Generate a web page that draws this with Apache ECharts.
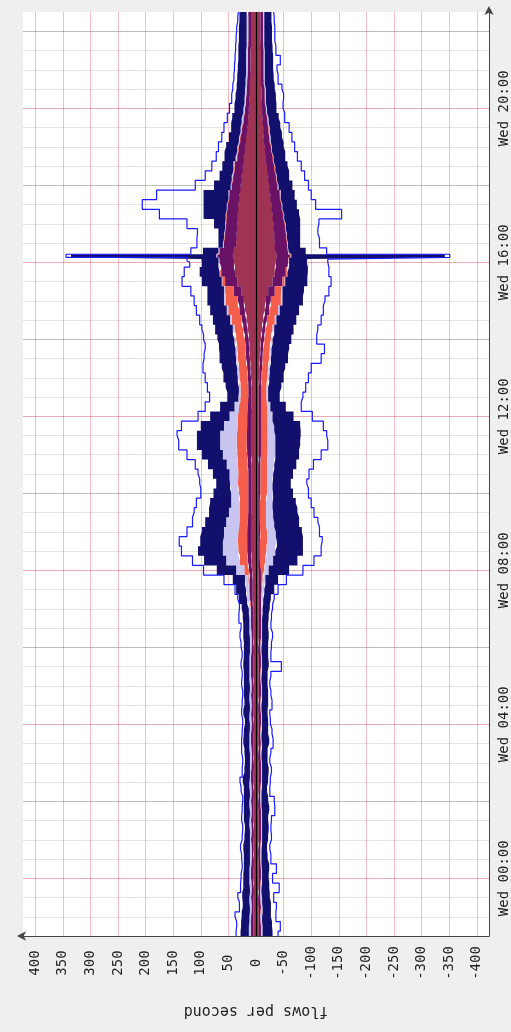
<!DOCTYPE html>
<html><head><meta charset="utf-8">
<script src="https://cdn.jsdelivr.net/npm/echarts@6/dist/echarts.min.js"></script>
<style>html,body{margin:0;padding:0;background:#efefef}#c{width:511px;height:1032px}</style>
</head><body><div id="c"></div><script>
// sample times: minutes relative to Wed 00:00 (negative = Tuesday evening)
const sampleMinutes = [-90,-75,-60,-45,-30,-15,0,15,30,45,60,75,90,105,120,135,150,165,180,195,210,225,240,255,270,285,300,315,330,345,360,375,390,405,420,435,450,465,480,495,510,525,540,555,570,585,600,615,630,645,660,675,690,705,720,735,750,765,780,795,810,825,840,855,870,885,900,915,930,945,960,965,970,975,990,1005,1020,1035,1050,1065,1080,1095,1110,1125,1140,1155,1170,1185,1200,1215,1230,1245,1260,1275,1290,1305,1320,1335,1350];

// upper half (positive) layers, flows per second
const inMaroon = [5,5,5,5,5,4, 5,5,4,5,5,4,5,5,5,4,5,5,4,5,5,5,4,5,5,5,4,5,5,5,4,5,5,5,5,6,6, 6,7,8,9,9,9,9,8,8,8,8,8,8,9,9,9,9,9,8, 8,8,9,10,11,12,13,15,17,20,22,26,34,38, 40,40,42,40,36,35,34,33,32,30, 28,26,24,22,20,18,16,14,13,12, 11,11,10,10,10,9,9,9,9];
const inPurple = [4,4,4,3,4,4, 4,4,4,3,4,4,4,3,4,4,4,4,4,3,4,4,4,4,3,4,4,4,4,4,4,3,4,4,4,5,5, 5,6,7,7,7,7,6,6,6,6,6,6,7,7,8,8,7,7,7, 6,6,6,6,7,7,7,8,9,10,11,14,22,25, 26,26,28,26,22,21,20,20,19,18, 16,15,14,12,11,10,9,8,7,6, 6,5,5,5,5,5,5,5,5];
const inCoral = [0,0,0,0,0,0, 0,0,0,0,0,0,0,0,0,0,0,0,0,0,0,0,0,0,0,0,0,0,0,0,0,0,0,0,0,1,2, 3,8,14,16,17,16,15,15,15,17,19,18,18,18,18,18,17,17,16, 14,14,15,15,15,15,16,16,18,20,22,16,5,2, 1,1,1,1,1,1,1,1,1,1, 1,1,1,1,1,1,1,1,0,0, 0,0,0,0,0,0,0,0,0];
const inLavender = [4,4,3,3,3,3, 3,3,3,3,2,3,3,3,3,3,3,2,3,3,3,3,3,3,3,3,3,3,3,3,3,3,3,3,4,4,5, 6,15,25,28,27,26,24,20,16,14,14,16,20,26,30,30,25,15,8, 4,3,3,3,3,3,3,3,3,3,3,2,1,1, 1,1,1,1,1,1,1,1,1,1, 1,2,2,2,2,2,2,3,3,3, 3,3,3,3,3,3,3,3,3];
const inNavy = [15,14,14,13,13,12, 11,10,11,12,10,9,10,11,10,11,12,10,9,10,11,10,9,11,10,10,11,10,11,10,11,12,11,12,13,15,18, 22,35,40,45,41,40,38,36,38,32,25,30,34,38,42,42,42,35,26, 20,24,26,28,30,30,31,32,31,30,30,30,36,36, 30,31,263,28,8,10,20,40,42,45, 30,22,20,20,20,18,17,17,16,16, 15,15,15,14,14,14,14,13,13];
const inPeak = [36,35,38,30,33,28, 27,25,26,28,25,24,26,25,24,27,29,25,24,26,26,25,24,26,25,24,26,25,27,25,27,29,27,31,30,33,38, 58,95,115,135,139,125,115,112,108,100,102,105,110,125,140,143,135,105,92, 84,88,92,96,94,92,95,98,102,108,112,118,134,130, 120,125,344,118,107,106,125,175,206,180, 110,92,80,72,68,62,58,52,48,44, 42,40,39,38,37,36,35,33,32];

// lower half (drawn below zero) layers, magnitudes in flows per second
const outMaroon = [5,5,5,5,4,5, 5,5,5,4,5,5,5,5,4,5,5,5,5,4,5,5,5,5,4,5,5,5,5,5,4,5,5,5,5,5,5, 5,5,4,4,4,4,4,4,4,4,4,4,4,5,5,5,5,5,5, 5,5,6,6,7,8,9,11,13,16,18,22,30,34, 36,36,38,36,34,33,32,30,28,26, 24,22,20,18,16,14,13,12,11,10, 10,9,9,9,9,8,8,8,8];
const outPurple = [4,4,3,4,4,3, 4,4,3,4,4,4,4,4,4,3,4,4,4,4,4,3,4,4,4,4,4,3,4,4,4,4,4,4,4,4,4, 4,4,3,3,3,4,3,3,3,4,4,4,4,4,4,4,4,4,4, 4,4,4,5,5,5,6,6,7,8,9,12,18,20, 22,22,24,22,22,21,20,19,18,17, 15,14,13,12,11,10,9,8,7,6, 6,5,5,5,5,5,5,5,5];
const outCoral = [0,0,0,0,0,0, 0,0,0,0,0,0,0,0,0,0,0,0,0,0,0,0,0,0,0,0,0,0,0,0,0,0,0,0,0,1,2, 3,6,10,12,13,12,11,11,11,12,12,12,12,12,12,12,12,12,11, 10,10,11,11,12,12,12,13,14,16,18,12,4,2, 1,1,1,1,1,1,1,1,1,1, 1,1,1,1,1,1,1,1,0,0, 0,0,0,0,0,0,0,0,0];
const outLavender = [3,3,3,3,3,2, 2,2,2,2,2,2,2,2,2,2,2,2,2,2,2,2,2,2,2,2,2,2,2,2,2,2,2,2,3,3,4, 5,8,14,16,18,16,15,13,12,11,10,11,13,14,14,14,12,9,6, 3,3,3,3,3,3,3,3,3,3,3,2,1,1, 1,1,1,1,1,1,1,1,1,1, 1,1,1,1,1,2,2,2,2,2, 2,2,2,2,2,2,2,2,2];
const outNavy = [18,17,16,15,14,14, 12,13,11,10,11,12,11,13,12,10,11,12,10,11,13,12,11,10,12,11,10,11,12,11,12,12,11,12,13,14,18, 23,37,44,50,47,47,45,44,42,36,33,36,40,43,45,46,47,38,28, 21,24,26,28,31,32,34,35,36,35,37,39,40,37, 32,33,278,30,22,24,26,27,26,25, 25,22,22,21,21,20,19,18,17,18, 16,16,15,15,14,14,14,13,13];
const outPeak = [40,44,36,37,32,42, 30,37,27,25,28,27,28,34,33,25,26,28,25,27,31,29,26,25,29,27,25,27,46,27,28,30,27,28,30,33,40, 55,85,105,118,120,115,112,105,100,95,92,96,104,118,130,128,122,102,82, 85,90,95,100,118,124,110,112,118,122,125,132,136,132, 130,130,351,128,115,112,114,155,108,100, 95,88,82,75,70,65,60,52,49,50, 47,40,38,44,36,34,34,33,32];

// axis ticks
const valueTicks = [400,350,300,250,200,150,100,50,0,-50,-100,-150,-200,-250,-300,-350,-400];
const timeTickMinutes = [0,240,480,720,960,1200];
const timeTickLabels = ['Wed 00:00','Wed 04:00','Wed 08:00','Wed 12:00','Wed 16:00','Wed 20:00'];
const minorGridMinutes = [-60,-30,0,30,60,90,120,150,180,210,240,270,300,330,360,390,420,450,480,510,540,570,600,630,660,690,720,750,780,810,840,870,900,930,960,990,1020,1050,1080,1110,1140,1170,1200,1230,1260,1290,1320];
const midGridMinutes = [120,360,600,840,1080,1320];

const WED = Date.UTC(2024,0,3);
const toTs = m => WED + m*60000;
const pts = (arr, sign) => arr.map((v,i) => [sign*v, toTs(sampleMinutes[i])]);

const layers = [
  ['maroon', inMaroon, outMaroon, '#9e3354'],
  ['purple', inPurple, outPurple, '#6a1266'],
  ['coral', inCoral, outCoral, '#f65e4c'],
  ['lavender', inLavender, outLavender, '#c8c6f0'],
  ['navy', inNavy, outNavy, '#12106c']
];

const PINK = 'rgba(235,70,100,0.36)';
const GREY = 'rgba(150,150,150,0.26)';
const GREY2 = 'rgba(120,120,120,0.38)';
const FONT = 'DejaVu Sans Mono';

const series = [];
series.push({
  type:'line', name:'grid', z:1, silent:true, symbol:'none',
  data:[[0, toTs(sampleMinutes[0])]], lineStyle:{opacity:0},
  markLine:{
    silent:true, symbol:['none','none'], z:1, animation:false,
    label:{show:false}, lineStyle:{type:'solid', width:1},
    data: [].concat(
      minorGridMinutes.map(m => ({yAxis: toTs(m), lineStyle:{color:GREY, type:'solid', width:1}})),
      midGridMinutes.map(m => ({yAxis: toTs(m), lineStyle:{color:GREY2, type:'solid', width:1}})),
      timeTickMinutes.map(m => ({yAxis: toTs(m), lineStyle:{color:PINK, type:'solid', width:1}})),
      valueTicks.map(v => ({xAxis: v, lineStyle:{color:PINK, type:'solid', width:1}}))
    )
  }
});
layers.forEach(([name, inArr, outArr, color]) => {
  series.push({type:'line', name:name+' in', stack:'in', step:'middle', symbol:'none', z:2,
    lineStyle:{width:0}, areaStyle:{color:color, opacity:1}, data: pts(inArr, 1)});
  series.push({type:'line', name:name+' out', stack:'out', step:'middle', symbol:'none', z:2,
    lineStyle:{width:0}, areaStyle:{color:color, opacity:1}, data: pts(outArr, -1)});
});
series.push({type:'line', name:'peak in', step:'middle', symbol:'none', z:3,
  lineStyle:{color:'#1a1aff', width:1.2}, data: pts(inPeak, 1),
  markLine:{silent:true, symbol:['none','none'], z:6, animation:false, label:{show:false},
    lineStyle:{color:'#000', type:'solid', width:1.2}, data:[{xAxis:0}]}});
series.push({type:'line', name:'peak out', step:'middle', symbol:'none', z:3,
  lineStyle:{color:'#1a1aff', width:1.2}, data: pts(outPeak, -1)});

const chart = echarts.init(document.getElementById('c'));
chart.setOption({
  animation:false,
  backgroundColor:'#efefef',
  grid:{left:23, right:22, top:12, bottom:96, show:true, backgroundColor:'#ffffff', borderWidth:0, containLabel:false, outerBoundsMode:'none'},
  xAxis:{
    type:'value', inverse:true, min:-422, max:422, position:'bottom',
    name:'flows per second', nameLocation:'middle', nameGap:75, nameRotate:180,
    nameTextStyle:{fontFamily:FONT, fontSize:15, color:'#222', align:'center', verticalAlign:'middle'},
    axisLine:{show:true, onZero:false, symbol:['arrow','none'], symbolSize:[7,9], symbolOffset:[-6,0], lineStyle:{color:'#444', width:1}},
    axisTick:{show:false},
    splitLine:{show:false},
    axisLabel:{customValues:valueTicks, rotate:90, align:'center', verticalAlign:'middle', margin:27,
      fontFamily:FONT, fontSize:14, color:'#222', formatter: v => String(v)}
  },
  yAxis:[{
    type:'time', position:'right', min:toTs(-90), max:toTs(1350),
    axisLine:{show:false}, axisTick:{show:false}, splitLine:{show:false}, axisLabel:{show:false}
  },{
    type:'value', position:'right', min:-90, max:1350,
    axisLine:{show:true, onZero:false, symbol:['none','arrow'], symbolSize:[7,9], symbolOffset:[0,6], lineStyle:{color:'#444', width:1}},
    axisTick:{show:false},
    splitLine:{show:false},
    axisLabel:{customValues: timeTickMinutes, rotate:90, align:'center', verticalAlign:'middle', margin:15,
      fontFamily:FONT, fontSize:14, color:'#222',
      formatter: v => { const k = timeTickMinutes.indexOf(Math.round(v)); return k >= 0 ? timeTickLabels[k] : ''; }}
  }],
  series: series
});
</script></body></html>
